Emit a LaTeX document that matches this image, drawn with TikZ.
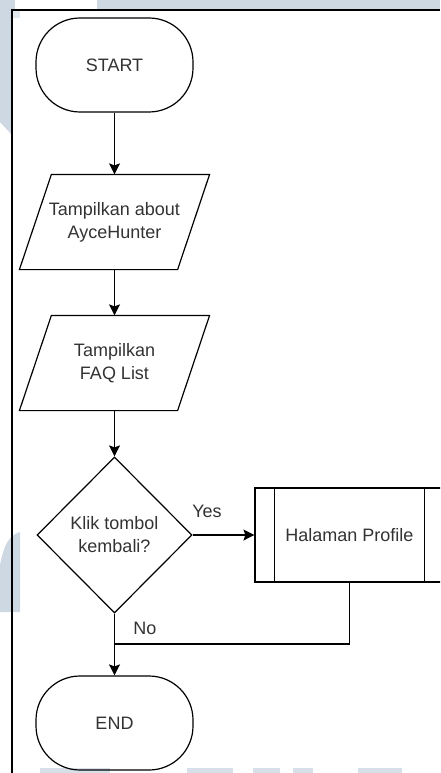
\documentclass[tikz,border=0pt]{standalone}
\usepackage{fontspec}
\setmainfont{Liberation Sans}
\usetikzlibrary{shapes.geometric,arrows.meta}
\definecolor{wm}{RGB}{205,216,226}
\definecolor{ink}{RGB}{51,51,51}

\begin{document}
\begin{tikzpicture}[x=1pt,y=-1pt,
  line width=1.2pt,
  every node/.style={font=\fontsize{18}{23}\selectfont, text=ink},
  term/.style={draw, rounded corners=44pt, minimum width=157pt, minimum height=94pt, inner sep=0pt},
  iobox/.style={minimum width=157pt, minimum height=94pt, inner sep=0pt, align=center},
  decision/.style={draw, diamond, aspect=1, minimum width=155pt, minimum height=156pt, inner sep=0pt, align=center},
  subproc/.style={draw, minimum width=189pt, minimum height=94pt, inner sep=0pt},
  flow/.style={-{Stealth[length=11pt,width=11pt,inset=2pt]}},
  lbl/.style={inner sep=0pt}]

% page area and background
\clip (0,0) rectangle (440,773);
\fill[white] (0,0) rectangle (440,773);
\fill[wm] (0,0) rectangle (440,10);
\fill[white] (15,0) rectangle (97,15);
\fill[wm] (0,0) -- (12,0) -- (12,135) -- (0,122) -- cycle;
\fill[wm!60!white] (12,10) rectangle (20,18);
\fill[wm] (0,565) .. controls (4,545) and (9,535) .. (20,532) -- (20,612) -- (0,612) -- cycle;
\foreach \a/\b in {40/110, 187/233, 253/280, 293/313, 358/402}
  \fill[wm!80!white] (\a,768) rectangle (\b,773);

% frame
\draw[line width=1.3pt, black] (440,10) -- (12,10) -- (12,773);

% flowchart nodes
\node[term] (start) at (114.5,65) {START};
\node[iobox] (about) at (114.5,222) {Tampilkan about\\AyceHunter};
\node[iobox] (faq) at (114.5,363) {Tampilkan\\FAQ List};
\node[decision] (klik) at (114.5,535) {Klik tombol\\kembali?};
\node[subproc] (prof) at (349.5,535) {Halaman Profile};
\node[term] (end) at (114.5,723) {END};

% parallelogram outlines of the output steps
\foreach \n in {about,faq}
  \draw ([xshift=16pt]\n.north west) -- ([xshift=16pt]\n.north east)
     -- ([xshift=-16pt]\n.south east) -- ([xshift=-16pt]\n.south west) -- cycle;

% side bars of the predefined process
\draw ([xshift=20pt]prof.north west) -- ([xshift=20pt]prof.south west);
\draw ([xshift=-20pt]prof.north east) -- ([xshift=-20pt]prof.south east);

% connectors
\draw[flow] (start.south) -- (about.north);
\draw[flow] (about.south) -- (faq.north);
\draw[flow] (faq.south) -- (klik.north);
\draw[flow] (klik.east) -- (prof.west);
\node[lbl] (yes) at (207,511) {Yes};
\coordinate (join) at (114.5,644);
\draw (prof.south) |- (join);
\draw[flow] (klik.south) -- (end.north);
\node[lbl] (no) at (145,628) {No};
\end{tikzpicture}
\end{document}
